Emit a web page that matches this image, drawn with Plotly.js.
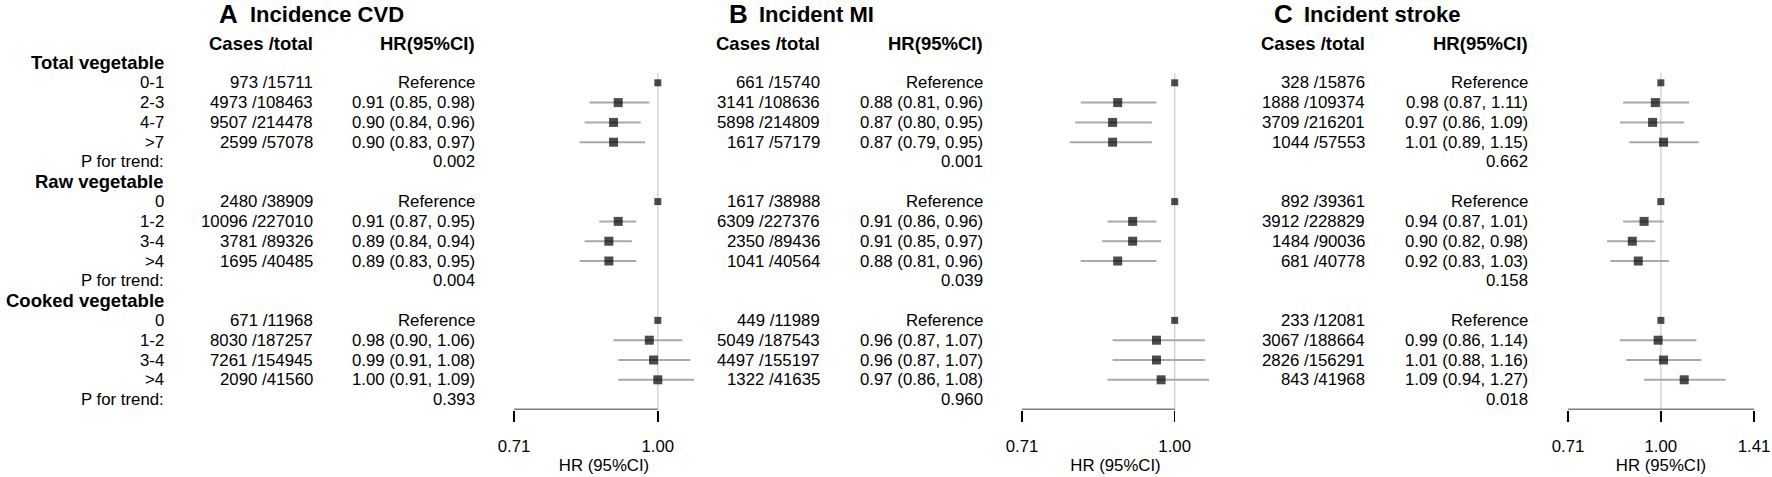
<!DOCTYPE html>
<html>
<head>
<meta charset="utf-8">
<script src="https://cdn.plot.ly/plotly-3.0.1.min.js"></script>
<style>html,body{margin:0;padding:0;background:#fff;}#chart{width:1772px;height:477px;}</style>
</head>
<body>
<div id="chart"></div>
<script>
// ---------------- DATA ----------------
const groups = ["Total vegetable", "Raw vegetable", "Cooked vegetable"];
const levels = [["0-1", "2-3", "4-7", ">7"], ["0", "1-2", "3-4", ">4"], ["0", "1-2", "3-4", ">4"]];
const trendLabel = "P for trend:";
const colHeaders = ["Cases /total", "HR(95%CI)"];
const axisTitle = "HR (95%CI)";

const panelLetters = ["A", "B", "C"];
const panelNames = ["Incidence CVD", "Incident MI", "Incident stroke"];

// Panel A: incident CVD
const cvdCases = [973, 4973, 9507, 2599, 2480, 10096, 3781, 1695, 671, 8030, 7261, 2090];
const cvdTotal = [15711, 108463, 214478, 57078, 38909, 227010, 89326, 40485, 11968, 187257, 154945, 41560];
const cvdHR = [1.00, 0.91, 0.90, 0.90, 1.00, 0.91, 0.89, 0.89, 1.00, 0.98, 0.99, 1.00];
const cvdLo = [null, 0.85, 0.84, 0.83, null, 0.87, 0.84, 0.83, null, 0.90, 0.91, 0.91];
const cvdHi = [null, 0.98, 0.96, 0.97, null, 0.95, 0.94, 0.95, null, 1.06, 1.08, 1.09];
const cvdP = ["0.002", "0.004", "0.393"];

// Panel B: incident MI
const miCases = [661, 3141, 5898, 1617, 1617, 6309, 2350, 1041, 449, 5049, 4497, 1322];
const miTotal = [15740, 108636, 214809, 57179, 38988, 227376, 89436, 40564, 11989, 187543, 155197, 41635];
const miHR = [1.00, 0.88, 0.87, 0.87, 1.00, 0.91, 0.91, 0.88, 1.00, 0.96, 0.96, 0.97];
const miLo = [null, 0.81, 0.80, 0.79, null, 0.86, 0.85, 0.81, null, 0.87, 0.87, 0.86];
const miHi = [null, 0.96, 0.95, 0.95, null, 0.96, 0.97, 0.96, null, 1.07, 1.07, 1.08];
const miP = ["0.001", "0.039", "0.960"];

// Panel C: incident stroke
const strokeCases = [328, 1888, 3709, 1044, 892, 3912, 1484, 681, 233, 3067, 2826, 843];
const strokeTotal = [15876, 109374, 216201, 57553, 39361, 228829, 90036, 40778, 12081, 188664, 156291, 41968];
const strokeHR = [1.00, 0.98, 0.97, 1.01, 1.00, 0.94, 0.90, 0.92, 1.00, 0.99, 1.01, 1.09];
const strokeLo = [null, 0.87, 0.86, 0.89, null, 0.87, 0.82, 0.83, null, 0.86, 0.88, 0.94];
const strokeHi = [null, 1.11, 1.09, 1.15, null, 1.01, 0.98, 1.03, null, 1.14, 1.16, 1.27];
const strokeP = ["0.662", "0.158", "0.018"];

const xTicks = [[0.71, 1.00], [0.71, 1.00], [0.71, 1.00, 1.41]];

const panels = [
  {cases: cvdCases, total: cvdTotal, hr: cvdHR, lo: cvdLo, hi: cvdHi, p: cvdP},
  {cases: miCases, total: miTotal, hr: miHR, lo: miLo, hi: miHi, p: miP},
  {cases: strokeCases, total: strokeTotal, hr: strokeHR, lo: strokeLo, hi: strokeHi, p: strokeP}
];

// ---------------- LAYOUT / STYLE ----------------
const W = 1772, H = 477;
const px = v => v / W;
const py = v => 1 - v / H;
const ROW0 = 63, STEP = 19.8;           // pixel centre of first row, row pitch
const rowY = r => py(ROW0 + STEP * r);
const NROWS = 18;
const FONT = "Liberation Sans, Arial, Helvetica, sans-serif";
const REG = 16.8, BOLD = 18.5;

const geom = [
  {labelRight: 166, casesRight: 315, hrRight: 477, plot: [514, 694], letterX: 217, nameX: 248},
  {casesRight: 822, hrRight: 985, plot: [1022, 1209], letterX: 727, nameX: 757},
  {casesRight: 1367, hrRight: 1530, plot: [1568, 1754], letterX: 1272, nameX: 1302}
];

// row index of each data item (group header rows are 0, 6, 12)
const dataRows = [];
levels.forEach((lv, g) => lv.forEach((_, i) => dataRows.push(g * 6 + 1 + i)));
const trendRows = groups.map((_, g) => g * 6 + 5);
const headerRows = groups.map((_, g) => g * 6);

const annotations = [];
const shapes = [];
const traces = [];
const layout = {
  width: W, height: H,
  margin: {l: 0, r: 0, t: 0, b: 0},
  paper_bgcolor: "#fff", plot_bgcolor: "rgba(0,0,0,0)",
  showlegend: false, hovermode: false,
  font: {family: FONT, color: "#000", size: REG},
  yaxis: {range: [NROWS - 0.5, -0.5], domain: [rowY(NROWS - 0.5), rowY(-0.5)],
          visible: false, fixedrange: true},
  annotations: annotations, shapes: shapes
};

function txt(x, row, text, bold, anchor) {
  annotations.push({
    xref: "paper", yref: "paper", x: px(x), y: rowY(row), text: bold ? "<b>" + text + "</b>" : text,
    showarrow: false, xanchor: anchor || "right", yanchor: "middle",
    font: {family: FONT, size: bold ? BOLD : REG, color: "#000"}
  });
}

// row labels (left-most column, panel A)
groups.forEach((gname, g) => {
  txt(geom[0].labelRight, headerRows[g], gname, true);
  levels[g].forEach((l, i) => txt(geom[0].labelRight, g * 6 + 1 + i, l, false));
  txt(geom[0].labelRight, trendRows[g], trendLabel, false);
});

panels.forEach((pd, k) => {
  const G = geom[k];
  const xa = k === 0 ? "x" : "x" + (k + 1);
  const xaKey = k === 0 ? "xaxis" : "xaxis" + (k + 1);

  // titles
  annotations.push({xref: "paper", yref: "paper", x: px(G.letterX), y: py(14), text: "<b>" + panelLetters[k] + "</b>",
    showarrow: false, xanchor: "left", yanchor: "middle", font: {family: FONT, size: 26, color: "#000"}});
  annotations.push({xref: "paper", yref: "paper", x: px(G.nameX), y: py(15), text: "<b>" + panelNames[k] + "</b>",
    showarrow: false, xanchor: "left", yanchor: "middle", font: {family: FONT, size: 22, color: "#000"}});

  // column headers
  txt(G.casesRight, -1, colHeaders[0], true);
  txt(G.hrRight, -1, colHeaders[1], true);

  // text columns
  pd.hr.forEach((h, i) => {
    const row = dataRows[i];
    txt(G.casesRight, row, pd.cases[i] + " /" + pd.total[i], false);
    const s = pd.lo[i] === null ? "Reference"
      : h.toFixed(2) + " (" + pd.lo[i].toFixed(2) + ", " + pd.hi[i].toFixed(2) + ")";
    txt(G.hrRight, row, s, false);
  });
  pd.p.forEach((p, g) => txt(G.hrRight, trendRows[g], p, false));

  // axis range from data
  const los = pd.lo.filter(v => v !== null), his = pd.hi.filter(v => v !== null);
  const xmin = Math.min(...xTicks[k], ...los), xmax = Math.max(...xTicks[k], ...his);

  layout[xaKey] = {
    type: "log", anchor: "y", domain: [px(G.plot[0]), px(G.plot[1])],
    range: [Math.log10(xmin), Math.log10(xmax)],
    tickvals: xTicks[k], ticktext: xTicks[k].map(v => v.toFixed(2)),
    ticks: "outside", ticklen: 11, tickwidth: 1.4, tickcolor: "#000",
    ticklabelstandoff: 10,
    showline: false, showgrid: false, zeroline: false, fixedrange: true,
    tickfont: {family: FONT, size: REG, color: "#000"},
    title: {text: axisTitle, font: {family: FONT, size: REG, color: "#000"}, standoff: 1}
  };

  // reference line at HR = 1 and axis line over tick range
  shapes.push({type: "line", xref: xa, yref: "y", x0: 1, x1: 1, y0: 0.5, y1: NROWS - 0.5,
    line: {color: "#cfcfcf", width: 1.3}, layer: "below"});
  shapes.push({type: "line", xref: xa, yref: "y", x0: xTicks[k][0], x1: xTicks[k][xTicks[k].length - 1],
    y0: NROWS - 0.5, y1: NROWS - 0.5, line: {color: "#000", width: 1.4}});

  // confidence intervals (drawn first, under the boxes)
  const cx = [], cy = [];
  pd.hr.forEach((h, i) => {
    if (pd.lo[i] === null) return;
    cx.push(pd.lo[i], pd.hi[i], null);
    cy.push(dataRows[i], dataRows[i], null);
  });
  traces.push({type: "scatter", mode: "lines", xaxis: xa, yaxis: "y", x: cx, y: cy,
    line: {color: "#a9a9a9", width: 2}, connectgaps: false});

  traces.push({
    type: "scatter", mode: "markers", xaxis: xa, yaxis: "y",
    x: pd.hr, y: dataRows,
    marker: {symbol: "square", color: "#000", size: pd.lo.map(v => v === null ? 7 : 9), line: {width: 0}},
    cliponaxis: false
  });
});

Plotly.newPlot("chart", traces, layout, {staticPlot: true, displayModeBar: false});
</script>
</body>
</html>
